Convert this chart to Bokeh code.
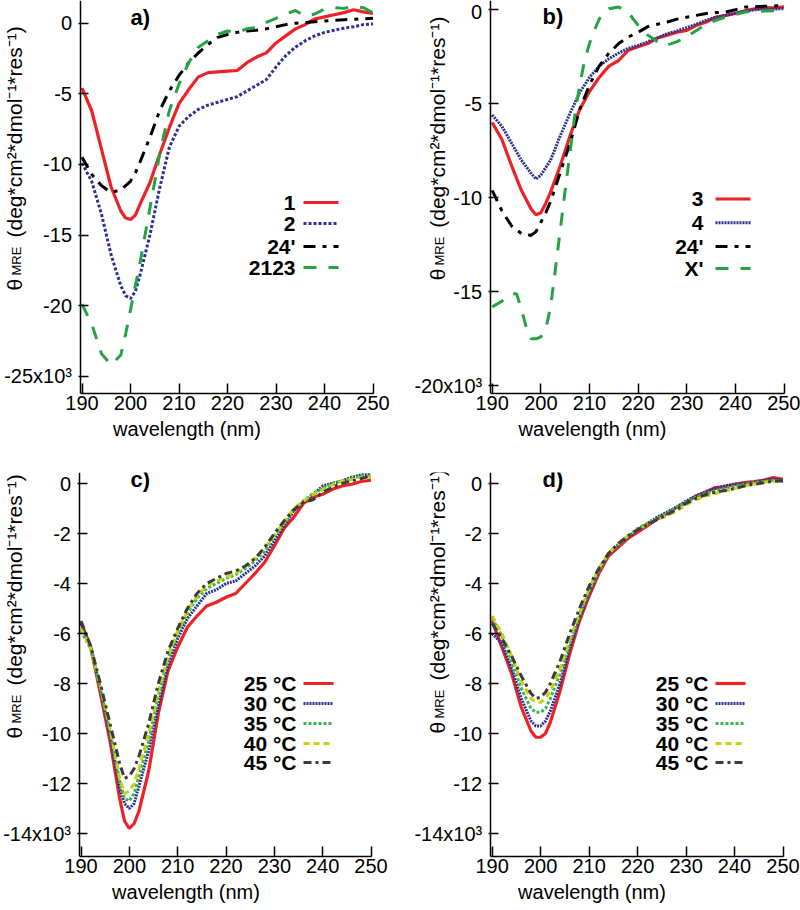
import math
from bokeh.plotting import figure
from bokeh.layouts import row, column
from bokeh.models import Range1d, FixedTicker, Label
from bokeh.embed import file_html
from bokeh.resources import INLINE

# ---------------- data ----------------
wl = [190, 192, 194, 196, 198, 199, 200, 201, 202, 204, 206, 208, 210, 212, 214, 216,
      218, 220, 222, 224, 226, 228, 230, 232, 234, 236, 238, 240, 242, 244, 246, 248, 250]

# panel a
a_1 = [-4.6, -6.2, -8.9, -11.6, -13.3, -13.8, -13.9, -13.6, -12.8, -11.3, -9.3, -7.4, -5.7, -4.7,
       -3.8, -3.5, -3.45, -3.4, -3.35, -2.8, -2.4, -2.1, -1.4, -0.9, -0.4, -0.1, 0.3, 0.45, 0.6,
       0.75, 0.95, 0.8, 0.7]
a_2 = [-9.9, -11.2, -13.5, -16.4, -18.6, -19.3, -19.5, -19.0, -17.8, -15.0, -11.7, -8.8, -7.3, -6.6,
       -6.1, -5.8, -5.6, -5.4, -5.2, -4.8, -4.4, -4.0, -3.1, -2.3, -1.7, -1.25, -0.9, -0.65, -0.5,
       -0.35, -0.25, -0.1, -0.05]
a_24 = [-9.5, -10.7, -11.5, -12.0, -11.8, -11.5, -11.2, -10.6, -9.8, -8.1, -6.2, -4.8, -3.7, -2.8,
        -2.1, -1.5, -1.0, -0.8, -0.65, -0.55, -0.5, -0.4, -0.25, -0.1, 0.0, 0.05, 0.1, 0.15, 0.2,
        0.25, 0.28, 0.3, 0.35]
a_2123 = [-19.9, -21.3, -23.4, -24.2, -23.5, -22.0, -20.3, -18.6, -16.9, -13.1, -9.3, -6.2, -4.3, -2.8,
          -1.7, -1.25, -0.8, -0.55, -0.65, -0.4, -0.3, 0.05, 0.35, 0.65, 0.9, 0.5, 0.65, 1.0, 1.1,
          1.05, 1.2, 1.1, 0.75]

# panel b
b_3 = [-6.0, -6.9, -8.3, -9.6, -10.6, -10.9, -10.8, -10.3, -9.7, -8.3, -6.7, -5.3, -4.35, -3.6,
       -3.0, -2.7, -2.15, -1.97, -1.8, -1.5, -1.35, -1.2, -1.1, -0.83, -0.65, -0.4, -0.3, -0.2,
       -0.05, 0.05, 0.1, 0.1, 0.15]
b_4 = [-5.6, -6.2, -7.1, -8.0, -8.7, -9.0, -8.8, -8.4, -8.0, -6.7, -5.5, -4.4, -3.6, -3.0, -2.6,
       -2.3, -2.05, -1.9, -1.7, -1.5, -1.27, -1.13, -0.95, -0.77, -0.56, -0.39, -0.3, -0.18, -0.08,
       0.0, 0.03, 0.04, 0.05]
b_24 = [-9.6, -10.7, -11.5, -11.9, -12.0, -11.8, -11.3, -10.8, -10.2, -8.65, -7.1, -5.3, -4.0, -3.0,
        -2.3, -1.8, -1.45, -1.2, -0.9, -0.77, -0.65, -0.5, -0.4, -0.3, -0.2, -0.15, -0.12, 0.0,
        0.14, 0.16, 0.18, 0.2, 0.23]
b_X_wl = [190, 192, 194, 195, 196, 197, 198, 199, 200, 201, 202, 203, 204, 205, 206, 207, 208, 209,
          210, 211, 212, 213, 214, 216, 218, 219, 220, 222, 224, 225, 226, 228, 230, 232, 234, 236,
          238, 240, 242, 246, 250]
b_X = [-15.8, -15.5, -15.1, -15.1, -15.9, -16.9, -17.5, -17.5, -17.4, -17.0, -15.8, -13.8, -11.7,
       -9.6, -7.6, -5.6, -4.0, -2.7, -1.8, -1.1, -0.5, -0.12, 0.05, 0.14, -0.12, -0.5, -0.83, -1.35,
       -1.7, -1.88, -1.88, -1.7, -1.44, -1.1, -0.77, -0.56, -0.39, -0.25, -0.12, -0.07, -0.04]

# panel c
c_25 = [-5.55, -6.55, -8.4, -10.3, -12.6, -13.5, -13.8, -13.6, -13.1, -11.5, -9.2, -7.5, -6.55, -5.75,
        -5.3, -4.9, -4.75, -4.55, -4.4, -4.0, -3.6, -3.15, -2.5, -1.8, -1.35, -0.8, -0.55, -0.43,
        -0.23, -0.1, -0.03, 0.08, 0.13]
c_30 = [-5.6, -6.5, -8.2, -10.1, -12.2, -12.8, -13.0, -12.8, -12.1, -10.7, -8.9, -7.3, -6.2, -5.4,
        -4.9, -4.4, -4.25, -4.0, -3.9, -3.6, -3.3, -2.9, -2.3, -1.7, -1.1, -0.75, -0.45, -0.1, 0.0,
        0.1, 0.25, 0.35, 0.35]
c_35 = [-5.9, -6.6, -8.2, -9.9, -11.9, -12.6, -12.7, -12.4, -11.7, -10.3, -8.5, -7.0, -6.0, -5.2,
        -4.6, -4.2, -4.0, -3.8, -3.65, -3.4, -3.1, -2.7, -2.1, -1.6, -1.05, -0.7, -0.4, -0.2, 0.0,
        0.1, 0.2, 0.3, 0.3]
c_40 = [-5.8, -6.6, -8.1, -9.8, -11.8, -12.4, -12.3, -12.0, -11.4, -10.0, -8.3, -6.9, -5.9, -5.1,
        -4.5, -4.1, -3.9, -3.75, -3.6, -3.3, -3.0, -2.6, -2.05, -1.55, -1.0, -0.7, -0.45, -0.25,
        -0.05, 0.1, 0.15, 0.25, 0.25]
c_45 = [-5.5, -6.5, -8.0, -9.6, -11.2, -11.8, -11.7, -11.4, -10.9, -9.6, -8.0, -6.7, -5.8, -5.0,
        -4.4, -4.0, -3.8, -3.6, -3.5, -3.3, -3.0, -2.55, -2.0, -1.5, -1.05, -0.75, -0.65, -0.35,
        -0.15, 0.0, 0.1, 0.2, 0.3]

# panel d
d_25 = [-5.5, -6.55, -7.6, -8.95, -9.9, -10.15, -10.15, -10.0, -9.55, -8.3, -6.8, -5.5, -4.5, -3.6,
        -2.9, -2.55, -2.2, -1.95, -1.7, -1.42, -1.22, -0.96, -0.76, -0.5, -0.36, -0.16, -0.13,
        -0.03, 0.04, 0.08, 0.13, 0.24, 0.17]
d_30 = [-6.0, -6.4, -7.4, -8.6, -9.5, -9.7, -9.7, -9.5, -9.1, -8.0, -6.6, -5.4, -4.4, -3.5, -2.8,
        -2.45, -2.15, -1.85, -1.6, -1.35, -1.15, -0.95, -0.7, -0.5, -0.32, -0.2, -0.1, -0.02, 0.0,
        0.05, 0.13, 0.18, 0.12]
d_35 = [-5.4, -6.1, -7.1, -8.2, -9.0, -9.15, -9.15, -9.0, -8.6, -7.6, -6.4, -5.3, -4.3, -3.5, -2.8,
        -2.45, -2.1, -1.8, -1.6, -1.4, -1.2, -0.95, -0.75, -0.55, -0.4, -0.3, -0.2, -0.1, -0.03,
        0.03, 0.08, 0.12, 0.1]
d_40 = [-5.3, -6.0, -6.9, -7.9, -8.6, -8.75, -8.75, -8.6, -8.3, -7.4, -6.2, -5.2, -4.2, -3.4, -2.8,
        -2.4, -2.1, -1.85, -1.65, -1.45, -1.3, -1.1, -0.85, -0.65, -0.5, -0.4, -0.3, -0.2, -0.1,
        -0.02, 0.05, 0.1, 0.05]
d_45 = [-5.6, -6.2, -6.9, -7.7, -8.4, -8.6, -8.55, -8.35, -8.0, -7.1, -6.0, -5.0, -4.1, -3.4, -2.8,
        -2.4, -2.1, -1.85, -1.65, -1.45, -1.25, -1.05, -0.8, -0.6, -0.45, -0.35, -0.28, -0.2, -0.1,
        -0.03, 0.03, 0.1, 0.1]

x_ticks = [190, 200, 210, 220, 230, 240, 250]
x_tick_labels = ["190", "200", "210", "220", "230", "240", "250"]
a_yticks = [0, -5, -10, -15, -20, -25]
a_ytick_labels = ["0", "-5", "-10", "-15", "-20", "-25x10³"]
b_yticks = [0, -5, -10, -15, -20]
b_ytick_labels = ["0", "-5", "-10", "-15", "-20x10³"]
cd_yticks = [0, -2, -4, -6, -8, -10, -12, -14]
cd_ytick_labels = ["0", "-2", "-4", "-6", "-8", "-10", "-12", "-14x10³"]

a_names = ["1", "2", "24'", "2123"]
b_names = ["3", "4", "24'", "X'"]
temp_names = ["25 °C", "30 °C", "35 °C", "40 °C", "45 °C"]

x_title = "wavelength (nm)"
y_title_main = "θ"
y_title_sub = "MRE"
y_title_units = "(deg*cm²*dmol⁻¹*res⁻¹)"

# ---------------- styles ----------------
RED = "#ec2227"
BLUE = "#2e3192"
BLACK = "#000000"
GREEN = "#25a244"
GREEN2 = "#3ab54a"
YELLOW = "#c4d20f"
GREY = "#3c3c3c"
FONT = "Liberation Sans"
X_END = 250.1


class Panel:
    """Figure whose frame starts at the figure's left edge; the y axis is drawn at
    a fixed x location inside it, so the rotated y title can sit beside it."""

    def __init__(self, width, height, frame_w, top, frame_h, x190_px, y0_px, ppu,
                 yticks, ylabels):
        ppn = (frame_w - x190_px) / (X_END - 190)
        self.x190_px, self.ppn, self.y0_px, self.ppu = x190_px, ppn, y0_px, ppu
        x_start = 190 - x190_px / ppn
        y_end = (y0_px - top) / ppu
        y_start = (y0_px - top - frame_h) / ppu
        axis_loc = 190 - 2.0 / ppn
        p = figure(width=width, height=height, x_range=Range1d(x_start, X_END),
                   y_range=Range1d(y_start, y_end), output_backend="svg",
                   toolbar_location=None, min_border_left=0,
                   min_border_right=width - frame_w, min_border_top=top,
                   min_border_bottom=height - top - frame_h)
        p.outline_line_color = None
        p.xgrid.visible = False
        p.ygrid.visible = False
        for ax in (p.xaxis[0], p.yaxis[0]):
            ax.axis_line_color = "black"
            ax.axis_line_width = 1.5
            ax.major_tick_line_color = "black"
            ax.major_tick_line_width = 1.5
            ax.minor_tick_line_color = None
            ax.major_label_text_font = FONT
            ax.major_label_text_font_size = "20px"
            ax.major_label_text_color = "black"
        xa = p.xaxis[0]
        xa.ticker = FixedTicker(ticks=x_ticks)
        xa.major_label_overrides = dict(zip(x_ticks, x_tick_labels))
        xa.bounds = (axis_loc, 250)
        xa.major_tick_in = 10
        xa.major_tick_out = 0
        xa.major_label_standoff = 2
        xa.axis_label = x_title
        xa.axis_label_text_font = FONT
        xa.axis_label_text_font_size = "20px"
        xa.axis_label_text_font_style = "normal"
        xa.axis_label_text_color = "black"
        xa.axis_label_standoff = 5
        ya = p.yaxis[0]
        ya.fixed_location = axis_loc
        ya.ticker = FixedTicker(ticks=yticks)
        ya.major_label_overrides = dict(zip(yticks, ylabels))
        ya.major_tick_in = 8
        ya.major_tick_out = 2
        ya.major_label_standoff = 6
        self.p = p

    # pixel position (relative to the figure) -> data position
    def xd(self, px):
        return 190 + (px - self.x190_px) / self.ppn

    def yd(self, py):
        return (self.y0_px - py) / self.ppu

    def ylabel(self, cx, y_start):
        p = self.p
        common = dict(angle=math.pi / 2, text_align="left", text_baseline="middle",
                      text_font=FONT, text_color="black")
        p.add_layout(Label(x=self.xd(cx), y=self.yd(y_start), text=y_title_main,
                           text_font_size="21px", **common))
        p.add_layout(Label(x=self.xd(cx + 2), y=self.yd(y_start - 15), text=y_title_sub,
                           text_font_size="13px", **common))
        p.add_layout(Label(x=self.xd(cx), y=self.yd(y_start - 53), text=y_title_units,
                           text_font_size="21px", **common))

    def tag(self, px, py, txt):
        self.p.add_layout(Label(x=self.xd(px), y=self.yd(py), text=txt, text_align="left",
                                text_baseline="middle", text_font=FONT,
                                text_font_size="22px", text_font_style="bold",
                                text_color="black"))

    def legend(self, names, styles, xt, x0, x1, rows):
        for name, st, py in zip(names, styles, rows):
            yy = self.yd(py)
            self.p.add_layout(Label(x=self.xd(xt), y=yy, text=name, text_align="right",
                                    text_baseline="middle", text_font=FONT,
                                    text_font_size="21px", text_font_style="bold",
                                    text_color="black"))
            self.p.line([self.xd(x0), self.xd(x1)], [yy, yy], **st)


sty_a = [dict(line_color=RED, line_width=3.2),
         dict(line_color=BLUE, line_width=3, line_dash="3 2"),
         dict(line_color=BLACK, line_width=3, line_dash="12 7 4 7"),
         dict(line_color=GREEN, line_width=3, line_dash="13 12")]
sty_b = [dict(line_color=RED, line_width=3.2),
         dict(line_color=BLUE, line_width=3, line_dash="2 1"),
         dict(line_color=BLACK, line_width=3, line_dash="12 7 4 7"),
         dict(line_color=GREEN, line_width=3, line_dash="13 12")]
sty_t = [dict(line_color=RED, line_width=3.2),
         dict(line_color=BLUE, line_width=3, line_dash="2 1"),
         dict(line_color=GREEN2, line_width=3, line_dash="3 2"),
         dict(line_color=YELLOW, line_width=3, line_dash="6 4"),
         dict(line_color=GREY, line_width=3, line_dash="8 4 3 4")]

# ---------------- panel a ----------------
A = Panel(400, 456, 373, 0, 393, 81.5, 22.7, 14.12, a_yticks, a_ytick_labels)
for yv, st in zip([a_1, a_2, a_24, a_2123], sty_a):
    A.p.line(wl, yv, **st)
A.legend(a_names, sty_a, 295, 303, 338, [202, 223, 246, 267])
A.tag(130, 17, "a)")
A.ylabel(14, 290)

# ---------------- panel b ----------------
B = Panel(400, 456, 384, 0, 396, 91.7, 9.3, 18.95, b_yticks, b_ytick_labels)
for xv, yv, st in zip([wl, wl, wl, b_X_wl], [b_3, b_4, b_24, b_X], sty_b):
    B.p.line(xv, yv, **st)
B.legend(b_names, sty_b, 303, 315, 350, [200, 224, 248, 270])
B.tag(142, 16, "b)")
B.ylabel(37, 282)

# ---------------- panel c (row coordinates: page y - 456) ----------------
C = Panel(400, 453, 371, 16, 384, 80.5, 483 - 456, 25.0, cd_yticks, cd_ytick_labels)
for yv, st in zip([c_25, c_30, c_35, c_40, c_45], sty_t):
    C.p.line(wl, yv, **st)
C.legend(temp_names, sty_t, 296, 303, 333, [683 - 456, 703 - 456, 723 - 456, 743 - 456, 762 - 456])
C.tag(130, 479 - 456, "c)")
C.ylabel(14, 738 - 456)

# ---------------- panel d ----------------
D = Panel(400, 453, 383, 16, 384, 91.7, 483 - 456, 25.0, cd_yticks, cd_ytick_labels)
for yv, st in zip([d_25, d_30, d_35, d_40, d_45], sty_t):
    D.p.line(wl, yv, **st)
D.legend(temp_names, sty_t, 308, 315, 345, [683 - 456, 703 - 456, 723 - 456, 743 - 456, 762 - 456])
D.tag(142, 479 - 456, "d)")
D.ylabel(37, 733 - 456)

layout = column(row(A.p, B.p), row(C.p, D.p))
open("out.html", "w").write(file_html(layout, INLINE))
